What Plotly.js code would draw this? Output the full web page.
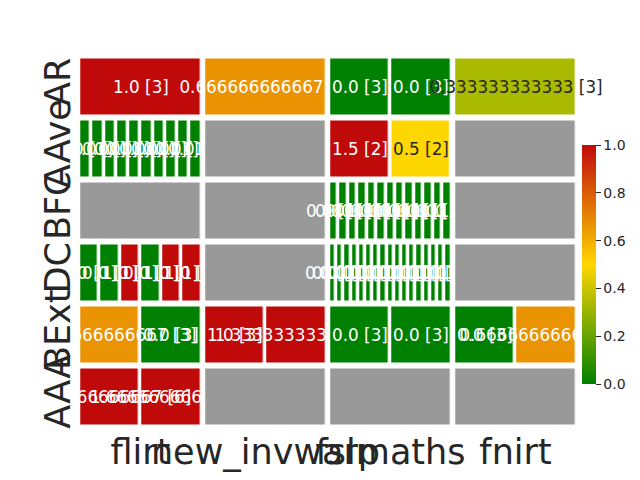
<!DOCTYPE html>
<html><head><meta charset="utf-8">
<script src="https://cdn.plot.ly/plotly-3.0.1.min.js"></script>
<style>html,body{margin:0;padding:0;background:#fff}</style>
</head><body><div id="chart" style="width:640px;height:480px"></div>
<script>
// ---- data ----
const tools = ["flirt", "new_invwarp", "fslmaths", "fnirt"];
const groups = ["AR", "AAve", "BFC", "DC", "BExt", "AAA"];

// scores per group, one list per tool (null = no data)
const scoresAR   = [[1.0], [0.666666666667], [0.0, 0.0], [0.333333333333]];
const countsAR   = [[3], [3], [3, 3], [3]];
const scoresAAve = [[0,0,0,0,0,0,0,0,0,0], null, [1.5, 0.5], null];
const countsAAve = [[1,1,1,1,1,1,1,1,1,1], null, [2, 2], null];
const scoresBFC  = [null, null, [0,0,0,0,0,0,0,0,0,0,0,0,0], null];
const countsBFC  = [null, null, [1,1,1,1,1,1,1,1,1,1,1,1,1], null];
const scoresDC   = [[0,0,1,0,1,1], null, [0,0,0,0,0,0,0,0,0,0,0,0,0,0,0,0,0], null];
const countsDC   = [[1,1,1,1,1,1], null, [1,1,1,1,1,1,1,1,1,1,1,1,1,1,1,1,1], null];
const scoresBExt = [[0.666666666667, 0.0], [1.0, 1.33333333333], [0.0, 0.0], [0.0, 0.666666666667]];
const countsBExt = [[3, 3], [3, 3], [3, 3], [3, 3]];
const scoresAAA  = [[1.16666666667, 1.66666666667], null, null, null];
const countsAAA  = [[6, 6], null, null, null];

const scoreRows = [scoresAR, scoresAAve, scoresBFC, scoresDC, scoresBExt, scoresAAA];
const countRows = [countsAR, countsAAve, countsBFC, countsDC, countsBExt, countsAAA];

// ---- styling ----
const FONT = "DejaVu Sans";
const DARK = "#262626";
const C0 = [0, 128, 0], C1 = [255, 215, 0], C2 = [192, 10, 10];
const colorscale = [[0, "rgb(0,128,0)"], [0.5, "rgb(255,215,0)"], [1, "rgb(192,10,10)"]];
const GRAY = "#999999";
const XGAP = 3.5, YGAP = 3;
const COLPX = 125, ROWPX = 62;
const mx = (6 - XGAP) / 2 / COLPX;
const my = (6 - YGAP) / 2 / ROWPX;

function colorAt(v) {
  v = Math.max(0, Math.min(1, v));
  let a, b, t;
  if (v <= 0.5) { a = C0; b = C1; t = v / 0.5; } else { a = C1; b = C2; t = (v - 0.5) / 0.5; }
  return a.map((x, i) => x + (b[i] - x) * t);
}
function textColor(v) {
  const rgb = colorAt(v).map(x => { x /= 255; return x <= 0.03928 ? x / 12.92 : Math.pow((x + 0.055) / 1.055, 2.4); });
  const lum = 0.2126 * rgb[0] + 0.7152 * rgb[1] + 0.0722 * rgb[2];
  return lum > 0.408 ? DARK : "#ffffff";
}
function fmt(v) { return Number.isInteger(v) ? v.toFixed(1) : String(v); }

const traces = [];
groups.forEach((g, r) => {
  tools.forEach((tool, c) => {
    const vals = scoreRows[r][c];
    const y = [r + my, r + 1 - my];
    if (vals === null) {
      traces.push({type: "heatmap", x: [c + mx, c + 1 - mx], y: y, z: [[1]],
        colorscale: [[0, GRAY], [1, GRAY]], showscale: false, hoverinfo: "skip",
        xgap: XGAP, ygap: YGAP});
      return;
    }
    const n = vals.length;
    const edges = [];
    for (let k = 0; k <= n; k++) edges.push(c + mx + (1 - 2 * mx) * k / n);
    const texts = vals.map((v, k) => fmt(v) + " [" + countRows[r][c][k] + "]");
    let start = 0;
    while (start < n) {
      const col = textColor(vals[start]);
      let end = start + 1;
      while (end < n && textColor(vals[end]) === col) end++;
      traces.push({type: "heatmap", x: edges.slice(start, end + 1), y: y,
        z: [vals.slice(start, end)], text: [texts.slice(start, end)],
        texttemplate: "%{text}", textfont: {family: FONT, size: 16.8, color: col},
        coloraxis: "coloraxis", xgap: XGAP, ygap: YGAP, hoverinfo: "skip"});
      start = end;
    }
  });
});

const plotW = 530, plotH = 372, mLeft = 78, mTop = 56;
const layout = {
  width: 640, height: 480,
  margin: {l: mLeft, r: 640 - mLeft - plotW, t: mTop, b: 480 - mTop - plotH},
  paper_bgcolor: "#fff", plot_bgcolor: "#fff",
  font: {family: FONT, color: DARK},
  showlegend: false,
  xaxis: {range: [0, 4 * plotW / 500], tickvals: tools.map((t, i) => i + 0.5), ticktext: tools,
    tickangle: 0, showgrid: false, zeroline: false, showline: false, ticks: "",
    tickfont: {family: FONT, size: 35, color: DARK}, fixedrange: true},
  yaxis: {range: [6, 0], tickvals: groups.map((t, i) => i + 0.5), ticktext: groups, tickangle: -90,
    showgrid: false, zeroline: false, showline: false, ticks: "",
    tickfont: {family: FONT, size: 35, color: DARK}, fixedrange: true},
  coloraxis: {cmin: 0, cmax: 1, colorscale: colorscale,
    colorbar: {x: (582 - mLeft) / plotW, xanchor: "left", y: (mTop + plotH - 264.5) / plotH, yanchor: "middle",
      thickness: 14, thicknessmode: "pixels", len: 239, lenmode: "pixels", xpad: 0, ypad: 0,
      outlinewidth: 0, ticks: "outside", ticklen: 5, tickwidth: 1, tickcolor: DARK,
      tickvals: [0, 0.2, 0.4, 0.6, 0.8, 1.0], ticktext: ["0.0", "0.2", "0.4", "0.6", "0.8", "1.0"],
      tickfont: {family: FONT, size: 14, color: DARK}}}
};
Plotly.newPlot("chart", traces, layout, {displayModeBar: false, staticPlot: true});
</script></body></html>
